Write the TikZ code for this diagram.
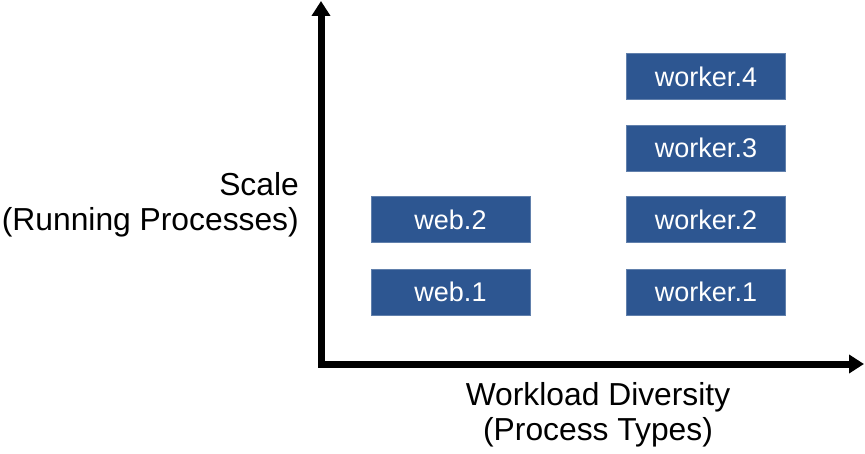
\documentclass[tikz,border=0pt]{standalone}
\usepackage{fontspec}
\setmainfont{Liberation Sans}
\usetikzlibrary{arrows.meta}
\definecolor{boxblue}{RGB}{45,86,145}
\begin{document}
\begin{tikzpicture}[x=1pt,y=1pt,
  proc/.style={rectangle, fill=boxblue, draw=boxblue!75!white, line width=0.6pt,
    minimum width=159pt, minimum height=46pt, inner sep=0pt,
    text=white, font=\fontsize{27}{32}\selectfont},
  axislabel/.style={font=\fontsize{31.8}{35}\selectfont, inner sep=0pt},
  axis/.style={line width=7pt, {Triangle[width=18pt,length=15pt]}-{Triangle[width=18pt,length=15pt]}}
]
\useasboundingbox (0,0) rectangle (865,453);
\coordinate (top) at (321,452);
\coordinate (right) at (864,89);
\draw[axis] (top) |- (right);

\node[proc] (w4) at (706,376.5) {worker.4};
\node[proc] (w3) at (706,305) {worker.3};
\node[proc] (w2) at (706,233.5) {worker.2};
\node[proc] (w1) at (706,161) {worker.1};
\node[proc] (b2) at (450.5,233.5) {web.2};
\node[proc] (b1) at (450.5,161) {web.1};

\node[axislabel, align=right, anchor=east] (ylab) at (299,248) {Scale\\(Running Processes)};
\node[axislabel, align=center] (xlab) at (598,38) {Workload Diversity\\(Process Types)};
\end{tikzpicture}
\end{document}
